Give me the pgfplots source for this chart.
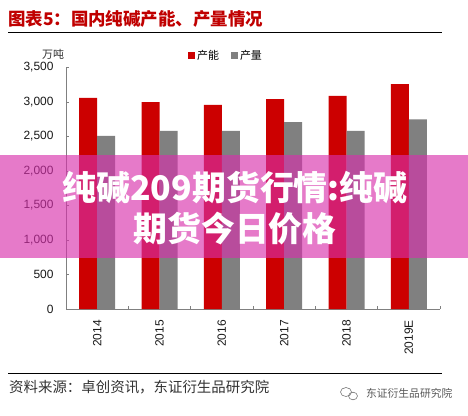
\documentclass[border=0pt]{standalone}
\usepackage{fontspec}
\usepackage{pgfplots}
\pgfplotsset{compat=1.18}
\setmainfont{Liberation Sans}
\newfontfamily\cjk{Noto Sans CJK SC}
\definecolor{capred}{RGB}{204,0,0}
\definecolor{outgray}{RGB}{128,128,128}
\definecolor{titlered}{RGB}{192,0,0}
\definecolor{bannerpink}{RGB}{216,47,172}
\begin{document}
\begin{tikzpicture}[x=1bp,y=1bp]
% page frame
\fill[white] (0,0) rectangle (468,415);

% heading and rules
\node[anchor=west, inner sep=0, text=titlered, font=\cjk\bfseries\fontsize{17.5}{20}\selectfont] at (8,396) {图表5：国内纯碱产能、产量情况};
\draw[black, line width=0.8bp] (8,383) -- (442,383);
\draw[black, line width=0.8bp] (8,42) -- (442,42);
\node[anchor=west, inner sep=0, text=black!80, font=\cjk\fontsize{14.5}{16}\selectfont] at (9,28) {资料来源：卓创资讯，东证衍生品研究院};

% unit label
\node[inner sep=0, text=black!80, font=\cjk\fontsize{11}{12}\selectfont] at (53,361) {万吨};

\begin{axis}[
  at={(66bp,106bp)}, anchor=south west,
  scale only axis, width=374bp, height=241.5bp,
  ybar=0pt, bar width=18bp,
  xmin=-0.5, xmax=5.5, ymin=0, ymax=3500,
  axis x line=bottom, axis y line=left,
  axis line style={outgray, line width=0.8bp, -},
  xtick={0,...,5},
  xticklabels={2014,2015,2016,2017,2018,2019E},
  minor xtick={-0.5,0.5,...,5.5},
  major x tick style={draw=none},
  minor x tick style={outgray, line width=0.6bp},
  minor tick length=3bp,
  ytick={0,500,...,3500},
  major y tick style={outgray, line width=0.6bp},
  major tick length=3bp,
  tick align=inside,
  /pgf/number format/.cd, 1000 sep={,}, assume math mode=true,
  /pgfplots/.cd,
  xticklabel style={rotate=90, anchor=east, inner xsep=11bp, font=\fontsize{12}{14}\selectfont, text=black!90},
  yticklabel style={xshift=-9bp, font=\fontsize{12}{14}\selectfont, text=black!90},
  legend columns=2,
  legend style={at={(rel axis cs:0.326,1.048)}, anchor=west, draw=none, fill=none,
    inner sep=0pt, font=\cjk\fontsize{11}{12}\selectfont,
    /tikz/every even column/.append style={column sep=10bp}},
  legend image code/.code={\fill[#1] (0bp,-3.5bp) rectangle (7bp,3.5bp);},
  clip=false,
]
\addplot[fill=capred, draw=none] coordinates {(0,3060) (1,3000) (2,2960) (3,3040) (4,3090) (5,3260)};
\addlegendentry{产能}
\addplot[fill=outgray, draw=none] coordinates {(0,2510) (1,2580) (2,2580) (3,2710) (4,2580) (5,2750)};
\addlegendentry{产量}
\end{axis}

% translucent banner across the chart
\fill[bannerpink, fill opacity=0.64] (0,157) rectangle (468,260);
\node[text=white, font=\cjk\bfseries\fontsize{34}{40}\selectfont, inner sep=0] at (235,227) {纯碱209期货行情:纯碱};
\node[text=white, font=\cjk\bfseries\fontsize{34}{40}\selectfont, inner sep=0] at (235,186) {期货今日价格};

% account mark
\begin{scope}[black!55, line width=0.6bp]
  \draw (346,23) ellipse (5.5 and 4.5);
  \draw (353,19) ellipse (4.5 and 3.8);
\end{scope}
\node[anchor=west, inner sep=0, text=black!65, font=\cjk\fontsize{10.8}{12}\selectfont] at (366,22) {东证衍生品研究院};
\end{tikzpicture}
\end{document}
